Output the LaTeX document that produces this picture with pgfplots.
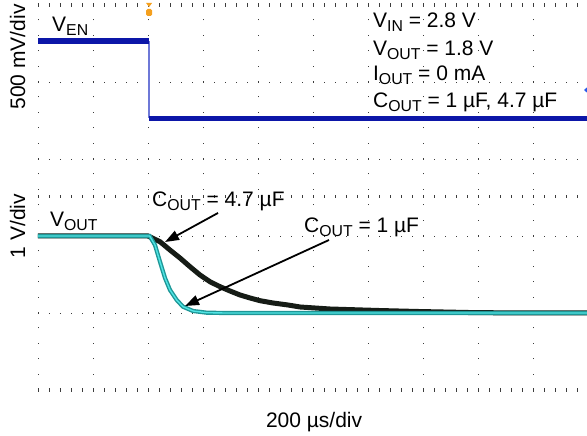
\documentclass[border=0pt]{standalone}
\usepackage{pgfplots}
\pgfplotsset{compat=1.18}
\usepackage{fontspec}
\setmainfont{Liberation Sans}
\usetikzlibrary{arrows.meta}
\definecolor{enblue}{RGB}{12,22,168}
\definecolor{enblueL}{RGB}{110,120,215}
\definecolor{tealO}{RGB}{30,150,150}
\definecolor{tealI}{RGB}{80,228,228}
\definecolor{blk}{RGB}{22,28,22}
\definecolor{trig}{RGB}{245,160,30}
\definecolor{chmark}{RGB}{40,90,235}
\definecolor{dotc}{RGB}{60,60,60}
\newcommand\sub[1]{\raisebox{-4pt}{\fontsize{15.8}{16}\selectfont #1}}

\pgfplotstableread{
x y
0 4.53
2.02 4.53
}\venhigh
\pgfplotstableread{
x y
2.02 3.526
10 3.526
}\venlow
\pgfplotstableread{
x y
0 2.0
2.0 2.0
2.218 1.926
2.4 1.818
2.582 1.714
2.764 1.601
2.945 1.494
3.127 1.406
3.309 1.342
3.491 1.286
3.673 1.234
3.855 1.195
4.036 1.160
4.273 1.130
4.545 1.104
4.764 1.078
5.309 1.052
6.218 1.032
6.945 1.019
7.855 1.006
8.764 1.0
10 1.0
}\coutbig
\pgfplotstableread{
x y
0 2.0
2.03 2.0
2.127 1.883
2.218 1.666
2.309 1.455
2.4 1.299
2.522 1.169
2.636 1.082
2.818 1.026
3.067 1.004
3.4 1.0
10 1.0
}\coutsmall

\begin{document}
\begin{tikzpicture}[font=\fontsize{21}{24}\selectfont]
\path[use as bounding box] (0,0) rectangle (587pt,436pt);
\begin{axis}[
  at={(38pt,46pt)}, anchor=south west,
  scale only axis, width=550pt, height=385pt,
  xmin=0, xmax=10, ymin=0, ymax=5,
  axis line style={draw=none},
  xtick={0,...,10}, ytick={1,2,3,4},
  xticklabels={}, yticklabels={},
  major tick length=0pt,
  grid=major,
  x grid style={dotc, line width=0.9pt, dash pattern=on 0.9pt off 14.5pt},
  y grid style={dotc, line width=0.9pt, dash pattern=on 0.9pt off 10.1pt},
  clip=false,
]
% tick rows
\draw[dotc, line width=3.5pt, dash pattern=on 0.9pt off 10.1pt] (axis cs:0,5) -- (axis cs:10,5);
\draw[dotc, line width=3.5pt, dash pattern=on 0.9pt off 10.1pt] (axis cs:0,2.513) -- (axis cs:10,2.513);
\draw[dotc, line width=3.5pt, dash pattern=on 0.9pt off 10.1pt] (axis cs:0,0) -- (axis cs:10,0);

% V_EN
\addplot[enblueL, line width=1.4pt] coordinates {(2.02,4.53) (2.02,3.526)};
\addplot[enblue, line width=5.5pt] table[x=x,y=y] {\venhigh};
\addplot[enblue, line width=5.5pt] table[x=x,y=y] {\venlow};

% V_OUT
\addplot[blk, line width=5pt] table[x=x,y=y] {\coutbig};
\addplot[tealO, line width=4.2pt] table[x=x,y=y] {\coutsmall};
\addplot[tealI, line width=1.4pt] table[x=x,y=y] {\coutsmall};

% markers
\fill[trig] (axis cs:2.02,5) ++(-3pt,2pt) -- ++(6pt,0) -- ++(-3pt,-4pt) -- cycle;
\fill[trig, rounded corners=1.5pt] (axis cs:2.02,5) ++(-3pt,-4pt) rectangle ++(6pt,-7pt);
\fill[chmark] (axis cs:10,3.896) ++(-4pt,0) -- ++(4pt,3.5pt) -- ++(0,-7pt) -- cycle;

% labels
\node[anchor=base west, inner sep=0] at (axis cs:0.255,4.65) {V\sub{EN}};
\node[anchor=base west, inner sep=0] at (axis cs:6.09,4.714) {V\sub{IN} = 2.8 V};
\node[anchor=base west, inner sep=0] at (axis cs:6.09,4.35) {V\sub{OUT} = 1.8 V};
\node[anchor=base west, inner sep=0] at (axis cs:6.09,4.013) {I\sub{OUT} = 0 mA};
\node[anchor=base west, inner sep=0] at (axis cs:6.09,3.675) {C\sub{OUT} = 1 µF, 4.7 µF};
\node[anchor=base west, inner sep=0] at (axis cs:0.218,2.117) {V\sub{OUT}};
\node[anchor=base west, inner sep=0] at (axis cs:2.073,2.377) {C\sub{OUT} = 4.7 µF};
\node[anchor=base west, inner sep=0] at (axis cs:4.836,2.039) {C\sub{OUT} = 1 µF};
\node[anchor=base, inner sep=0] at (axis cs:5.02,-0.49) {200 µs/div};
\node[anchor=base, inner sep=0, rotate=90] at (axis cs:-0.236,4.325) {500 mV/div};
\node[anchor=base, inner sep=0, rotate=90] at (axis cs:-0.236,2.13) {1 V/div};

% arrows
\draw[black, line width=1.8pt, -{Triangle[length=14pt,width=10pt]}] (axis cs:3.273,2.299) -- (axis cs:2.309,1.922);
\draw[black, line width=1.8pt, -{Triangle[length=14pt,width=10pt]}] (axis cs:5.291,1.948) -- (axis cs:2.673,1.091);
\end{axis}
\end{tikzpicture}
\end{document}
